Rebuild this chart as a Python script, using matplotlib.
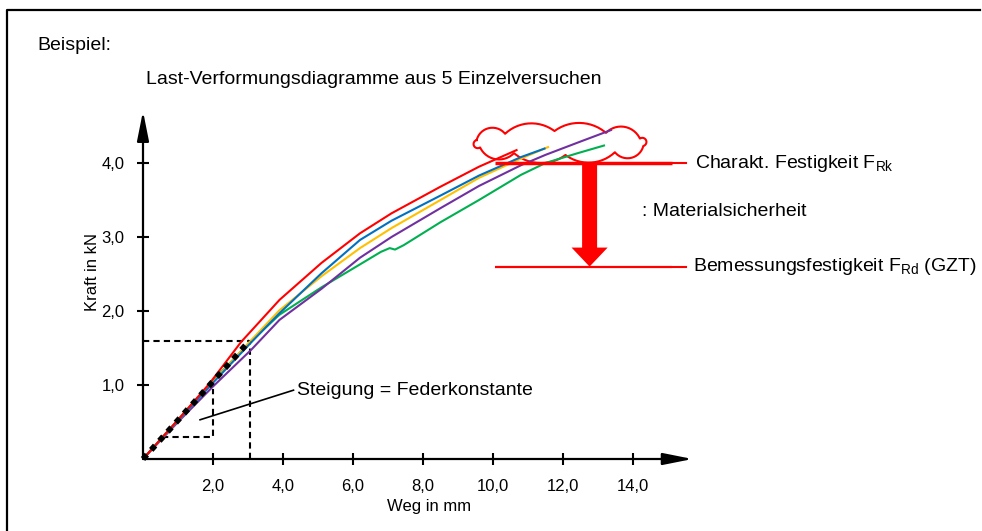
import numpy as np
import matplotlib
matplotlib.use("Agg")
import matplotlib.pyplot as plt

plt.rcParams["font.family"] = ["Liberation Sans", "DejaVu Sans"]
plt.rcParams["mathtext.default"] = "regular"

# Load-deformation curves of the 5 single tests (Weg in mm, Kraft in kN)
x_red = [0, 1.0, 1.9, 2.8, 3.9, 5.1, 6.2, 7.1, 8.5, 9.6, 10.7]
y_red = [0, 0.53, 1.02, 1.58, 2.15, 2.65, 3.05, 3.32, 3.68, 3.95, 4.18]

x_blue = [0, 1.0, 2.0, 3.1, 3.9, 5.1, 6.2, 7.1, 8.5, 9.6, 10.8, 11.5]
y_blue = [0, 0.52, 1.03, 1.58, 1.97, 2.51, 2.96, 3.22, 3.56, 3.83, 4.08, 4.2]

x_yellow = [0, 1.0, 2.0, 3.0, 3.9, 5.1, 6.2, 7.1, 8.5, 9.6, 10.8, 11.6]
y_yellow = [0, 0.52, 1.04, 1.56, 2.01, 2.47, 2.85, 3.12, 3.5, 3.8, 4.06, 4.22]

x_purple = [0, 1.0, 2.0, 3.1, 3.9, 5.1, 6.2, 7.1, 8.5, 9.6, 10.8, 11.5, 12.5, 13.4]
y_purple = [0, 0.5, 0.98, 1.48, 1.88, 2.3, 2.72, 3.0, 3.39, 3.69, 3.97, 4.11, 4.29, 4.45]

x_green = [0, 1.0, 2.0, 3.1, 3.9, 5.1, 6.2, 6.8, 7.05, 7.2, 7.45, 8.5, 9.6, 10.8, 11.5, 12.4, 13.2]
y_green = [0, 0.53, 1.06, 1.6, 1.95, 2.32, 2.63, 2.8, 2.85, 2.83, 2.89, 3.2, 3.5, 3.84, 4.0, 4.13, 4.24]

# spring constant: secant up to (3.05 mm, 1.6 kN), small slope triangle
x_secant = [0, 3.05]
y_secant = [0, 1.6]
x_tri = [0.55, 2.0, 2.0]
y_tri = [0.3, 0.3, 0.95]

f_rk = 4.0   # characteristic strength
f_rd = 2.6   # design strength
x_ref = [10.06, 15.1]

x_ticks = [2, 4, 6, 8, 10, 12, 14]
x_labels = ["2,0", "4,0", "6,0", "8,0", "10,0", "12,0", "14,0"]
y_ticks = [1, 2, 3, 4]
y_labels = ["1,0", "2,0", "3,0", "4,0"]

W, H = 982, 531
fig = plt.figure(figsize=(W / 100, H / 100), dpi=100)

# pixel overlay for frame, cloud and headings
bg = fig.add_axes([0, 0, 1, 1])
bg.set_xlim(0, W)
bg.set_ylim(H, 0)
bg.axis("off")
bg.plot([7, 7, 980], [H + 5, 10, 10], color="black", lw=1.6)
bg.text(37, 45, "Beispiel:", fontsize=14, va="center", ha="left")
bg.text(146, 80, "Last-Verformungsdiagramme aus 5 Einzelversuchen", fontsize=14,
        va="center", ha="left")


def cloud(cx, cy, rx, ry, n, sag, start):
    # scalloped outline: circular arcs bulging outwards between points on an ellipse
    th = np.linspace(start, start + 2 * np.pi, n + 1)
    px = cx + rx * np.cos(th)
    py = cy + ry * np.sin(th)
    xs, ys = [], []
    for i in range(n):
        x0, y0, x1, y1 = px[i], py[i], px[i + 1], py[i + 1]
        c = np.hypot(x1 - x0, y1 - y0)
        s = min(sag, 0.6 * c)
        r = (c * c / 4 + s * s) / (2 * s)
        mx, my = (x0 + x1) / 2, (y0 + y1) / 2
        nx, ny = -(y1 - y0) / c, (x1 - x0) / c
        if nx * (mx - cx) + ny * (my - cy) < 0:
            nx, ny = -nx, -ny
        ox, oy = mx - nx * (r - s), my - ny * (r - s)
        a0 = np.arctan2(y0 - oy, x0 - ox)
        a1 = np.arctan2(y1 - oy, x1 - ox)
        am = np.arctan2(my + ny * s - oy, mx + nx * s - ox)
        # pick direction passing through the outer apex
        d = (a1 - a0) % (2 * np.pi)
        if ((am - a0) % (2 * np.pi)) > d:
            d = d - 2 * np.pi
        a = a0 + d * np.linspace(0, 1, 30)
        xs.extend(ox + r * np.cos(a))
        ys.extend(oy + r * np.sin(a))
    return xs, ys


cxs, cys = cloud(560, 143, 86, 12, 10, 9, np.pi + 0.25)
bg.plot(cxs, cys, color="red", lw=1.5)

# main diagram, 35 px per mm and 74 px per kN
ax = fig.add_axes([143 / W, (H - 459) / H, 15.7 * 35 / W, 4.7 * 74 / H])
ax.patch.set_visible(False)
ax.set_xlim(0, 15.7)
ax.set_ylim(0, 4.7)
for s in ax.spines.values():
    s.set_visible(False)

arrow = dict(arrowstyle="-|>,head_length=1.8,head_width=0.36", color="black",
             lw=1.6, shrinkA=0, shrinkB=0, mutation_scale=10)
ax.annotate("", xy=(1, 0), xycoords="axes fraction", xytext=(0, 0),
            textcoords="axes fraction", arrowprops=arrow)
ax.annotate("", xy=(0, 1), xycoords="axes fraction", xytext=(0, 0),
            textcoords="axes fraction", arrowprops=arrow)

ax.set_xticks(x_ticks)
ax.set_xticklabels(x_labels)
ax.set_yticks(y_ticks)
ax.set_yticklabels(y_labels)
ax.tick_params(direction="inout", length=8.6, width=1.5, labelsize=12)
ax.tick_params(axis="x", pad=10)
ax.tick_params(axis="y", pad=9)

ax.set_xlabel("Weg in mm", fontsize=12)
ax.xaxis.set_label_coords(0.52, -0.114)
ax.set_ylabel("Kraft in kN", fontsize=12)
ax.yaxis.set_label_coords(-0.079, 0.538)

# dashed construction lines
dash = dict(color="black", lw=1.5, ls=(0, (3, 2)), clip_on=False)
ax.plot([0, x_secant[1]], [y_secant[1], y_secant[1]], **dash)
ax.plot([x_secant[1], x_secant[1]], [0, y_secant[1]], **dash)
ax.plot(x_tri, y_tri, **dash)

curves = [
    (x_green, y_green, "#00B050"),
    (x_purple, y_purple, "#7030A0"),
    (x_yellow, y_yellow, "#FFC000"),
    (x_blue, y_blue, "#0070C0"),
    (x_red, y_red, "#FF0000"),
]
for xs, ys, c in curves:
    ax.plot(xs, ys, color=c, lw=1.5, clip_on=False, solid_capstyle="butt")

ax.plot(x_secant, y_secant, color="black", lw=4.2, ls=(0, (1, 1.1)),
        dash_capstyle="butt", clip_on=False, zorder=5)

ax.plot([1.63, 4.3], [0.53, 0.93], color="black", lw=1.2)
ax.text(4.4, 0.93, "Steigung = Federkonstante", fontsize=14, va="center", ha="left")

# characteristic and design strength
ax.plot(x_ref, [f_rk, f_rk], color="red", lw=2.5, clip_on=False, solid_capstyle="butt")
ax.plot([x_ref[1] + 0.05, 15.5], [f_rk, f_rk], color="red", lw=1.5, clip_on=False)
ax.plot(x_ref, [f_rd, f_rd], color="red", lw=1.6, clip_on=False, solid_capstyle="butt")
ax.plot([x_ref[1] + 0.05, 15.5], [f_rd, f_rd], color="red", lw=1.5, clip_on=False)

ax.annotate("", xy=(12.76, f_rd), xytext=(12.76, f_rk),
            arrowprops=dict(arrowstyle="simple,head_length=1.37,head_width=2.6,tail_width=1.08",
                            color="red", lw=0, shrinkA=0, shrinkB=0, mutation_scale=10))

ax.text(15.77, f_rk, "Charakt. Festigkeit F$_{Rk}$", fontsize=14, va="center", ha="left")
ax.text(14.26, 3.35, ": Materialsicherheit", fontsize=14, va="center", ha="left")
ax.text(15.71, f_rd, "Bemessungsfestigkeit F$_{Rd}$ (GZT)", fontsize=14, va="center",
        ha="left")

fig.savefig("out.png", dpi=100)
